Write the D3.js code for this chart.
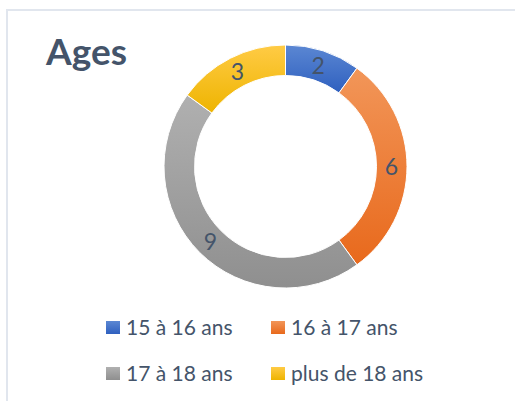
<!DOCTYPE html>
<html>
<head>
<meta charset="utf-8">
<script src="https://cdn.jsdelivr.net/npm/d3@7"></script>
<style>
  body { margin: 0; background: #fff; }
  svg { display: block; font-family: Lato, "Open Sans", sans-serif; }
</style>
</head>
<body>
<svg id="chart" width="515" height="401"></svg>
<script>
// donnees du graphique
var categories = ["15 à 16 ans", "16 à 17 ans", "17 à 18 ans", "plus de 18 ans"];
var values = [2, 6, 9, 3];
var colorsTop = ["#5b87d3", "#f29659", "#b0b0b0", "#ffcb45"];
var colorsBottom = ["#2f60bf", "#e8691c", "#8f8f8f", "#eeb400"];

var svg = d3.select("#chart");
var textColor = "#44546a";

// cadre
svg.append("path")
   .attr("d", "M7,401 V10 H515")
   .attr("fill", "none")
   .attr("stroke", "#e1e6ee")
   .attr("stroke-width", 2);

// degrades
var defs = svg.append("defs");
categories.forEach(function (c, i) {
    var g = defs.append("linearGradient")
                .attr("id", "grad" + i)
                .attr("x1", 0).attr("y1", 0).attr("x2", 0).attr("y2", 1);
    g.append("stop").attr("offset", "0%").attr("stop-color", colorsTop[i]);
    g.append("stop").attr("offset", "100%").attr("stop-color", colorsBottom[i]);
});

// titre
svg.append("text")
   .attr("x", 46).attr("y", 65)
   .attr("font-size", 37).attr("font-weight", "bold")
   .attr("fill", textColor)
   .text("Ages");

// anneau
var cx = 285.5, cy = 166.5;
var outerR = 121.5, innerR = 91;
var pie = d3.pie().sort(null)(values);
var arc = d3.arc().innerRadius(innerR).outerRadius(outerR);
var labelArc = d3.arc().innerRadius(106).outerRadius(106);

var group = svg.append("g").attr("transform", "translate(" + cx + "," + cy + ")");
group.selectAll("path")
     .data(pie)
     .enter()
     .append("path")
     .attr("d", arc)
     .attr("fill", function (d, i) { return "url(#grad" + i + ")"; })
     .attr("stroke", "#fff")
     .attr("stroke-width", 1);

group.selectAll("text")
     .data(pie)
     .enter()
     .append("text")
     .attr("transform", function (d) { return "translate(" + labelArc.centroid(d) + ")"; })
     .attr("text-anchor", "middle")
     .attr("dy", "0.36em")
     .attr("font-size", 23)
     .attr("fill", textColor)
     .text(function (d) { return d.data; });

// legende
var legX = [106, 271];
var legY = [321, 367];
var legend = svg.selectAll(".leg")
                .data(categories)
                .enter()
                .append("g")
                .attr("class", "leg")
                .attr("transform", function (d, i) {
                    return "translate(" + legX[i % 2] + "," + legY[Math.floor(i / 2)] + ")";
                });
legend.append("rect")
      .attr("width", 14).attr("height", 13)
      .attr("fill", function (d, i) { return "url(#grad" + i + ")"; });
legend.append("text")
      .attr("x", 20).attr("y", 14)
      .attr("font-size", 21)
      .attr("fill", textColor)
      .text(function (d) { return d; });
</script>
</body>
</html>
